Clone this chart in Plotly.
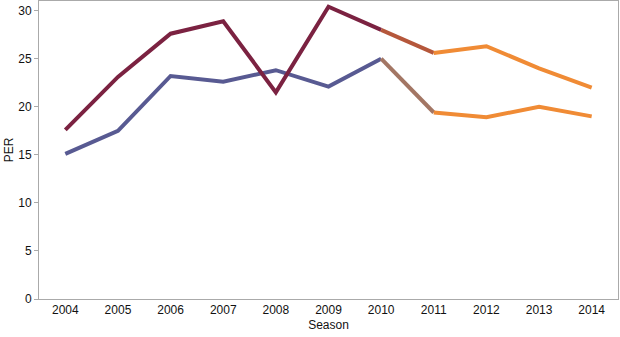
import plotly.graph_objects as go

seasons = [2004, 2005, 2006, 2007, 2008, 2009, 2010, 2011, 2012, 2013, 2014]
per_a = [17.6, 23.1, 27.6, 28.9, 21.5, 30.4, 28.0, 25.6, 26.3, 24.0, 22.0]
per_b = [15.1, 17.5, 23.2, 22.6, 23.8, 22.1, 25.0, 19.4, 18.9, 20.0, 19.0]

split = seasons.index(2010)
col_a = "#7b2241"
col_b = "#585a92"
col_late = "#f08b35"
mid_a = "#b5573b"
mid_b = "#a37664"

fig = go.Figure()
for vals, early, mid in [(per_b, col_b, mid_b), (per_a, col_a, mid_a)]:
    fig.add_trace(go.Scatter(x=seasons[:split + 1], y=vals[:split + 1], mode="lines",
                             line=dict(color=early, width=4), showlegend=False))
    fig.add_trace(go.Scatter(x=seasons[split:split + 2], y=vals[split:split + 2], mode="lines",
                             line=dict(color=mid, width=4), showlegend=False))
    fig.add_trace(go.Scatter(x=seasons[split + 1:], y=vals[split + 1:], mode="lines",
                             line=dict(color=col_late, width=4), showlegend=False))

fig.update_layout(
    width=620, height=337,
    margin=dict(l=39, r=2, t=1, b=38),
    plot_bgcolor="white", paper_bgcolor="white",
    font=dict(family="Liberation Sans, Arial", size=12, color="#111"),
    xaxis=dict(range=[2003.5, 2014.5], tickmode="array", tickvals=seasons,
               ticktext=[str(s) for s in seasons], showgrid=False, zeroline=False,
               showline=True, linecolor="#aaaaaa", linewidth=1, mirror=True,
               ticks="", title=dict(text="Season", standoff=4, font=dict(size=12))),
    yaxis=dict(range=[0, 31], tickvals=[0, 5, 10, 15, 20, 25, 30], showgrid=False,
               zeroline=False, showline=True, linecolor="#aaaaaa", linewidth=1, mirror=True,
               ticks="outside", ticklen=4, tickcolor="#aaaaaa",
               title=dict(text="PER", standoff=2, font=dict(size=12))),
)
fig.write_html("out.html")
